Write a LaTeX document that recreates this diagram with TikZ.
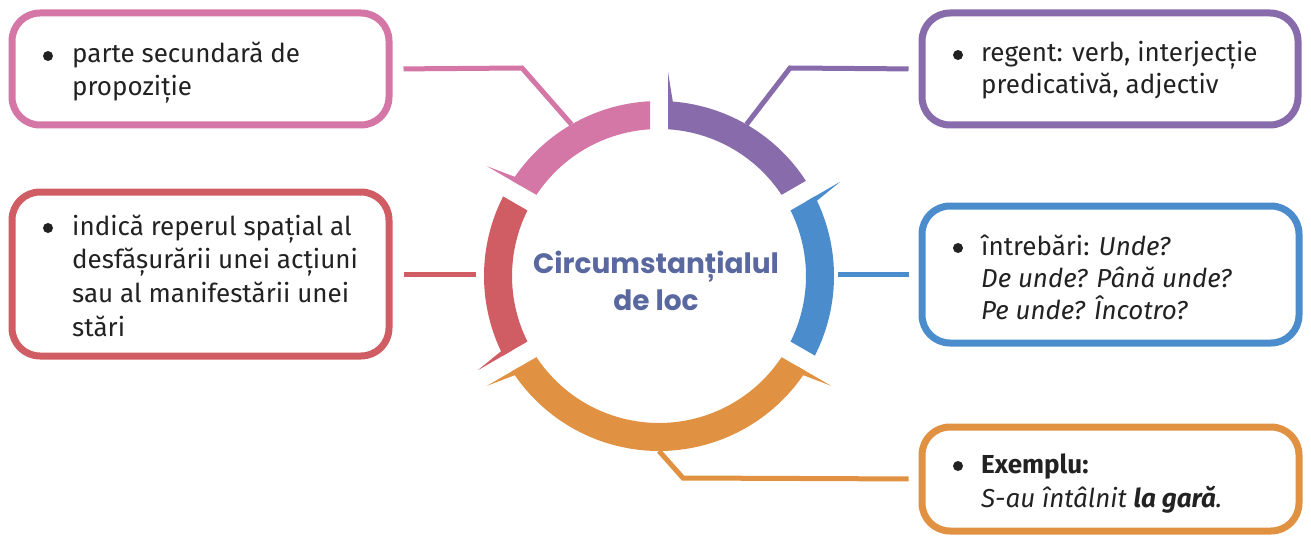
\documentclass[tikz,border=0pt]{standalone}
\usepackage{fontspec}
\setmainfont{Fira Sans}
\newfontfamily\titlefont{Poppins}
\usetikzlibrary{calc}
\definecolor{cpink}{RGB}{212,119,167}
\definecolor{cpurple}{RGB}{135,107,170}
\definecolor{cred}{RGB}{208,92,100}
\definecolor{cblue}{RGB}{74,140,204}
\definecolor{corange}{RGB}{224,146,66}
\definecolor{ctitle}{RGB}{90,104,160}
\definecolor{ctext}{RGB}{34,34,34}
\newcommand\txtlines[2]{\vtop{\baselineskip=#1pt\relax #2}}
\newcommand\ringseg[3]{%
  \fill[#3] ($(C)+({#1+2.95}:175)$) arc[start angle={#1+2.95}, end angle={#2-2.95}, radius=175]
    -- ($(C)+({#2-3.51}:147)$) arc[start angle={#2-3.51}, end angle={#1+3.51}, radius=147] -- cycle;}
\newcommand\ringspike[3]{%
  \fill[#3] ($(C)+({#1}:165)+({#1+90}:{#2*9})$) -- ($(C)+({#1}:204)+({#1+90}:{#2*9})$)
    -- ($(C)+({#1+#2*4.6}:174)$) -- cycle;}
\begin{document}
\begin{tikzpicture}[x=1pt,y=1pt,
  infobox/.style={draw=#1, line width=7pt, rounded corners=28pt, inner sep=0pt, fill=white},
  link/.style={draw=#1, line width=5pt},
  boxtext/.style={anchor=base west, inner sep=0pt, font=\fontsize{26}{33}\selectfont, text=ctext},
  bulletdot/.style={fill=ctext}]
\useasboundingbox (0,0) rectangle (1311,550);
\fill[white] (0,0) rectangle (1311,550);
\coordinate (C) at (659,274);
\node[circle, minimum size=350pt, inner sep=0pt, outer sep=0pt] (ring) at (C) {};
% boxes
\node[infobox=cpink, minimum width=377pt, minimum height=112pt] (pinkbox) at (200.5,481) {};
\node[infobox=cred, minimum width=377pt, minimum height=164pt] (redbox) at (200.5,276) {};
\node[infobox=cpurple, minimum width=376pt, minimum height=112pt] (purplebox) at (1110,481) {};
\node[infobox=cblue, minimum width=377pt, minimum height=137pt] (bluebox) at (1110.5,275.5) {};
\node[infobox=corange, minimum width=377pt, minimum height=104pt] (orangebox) at (1110.5,71) {};
% connectors
\coordinate (pk1) at (522,482);
\coordinate (pu1) at (790,482);
\coordinate (or1) at (683,72);
\draw[link=cpink, shorten <=11pt] (pinkbox.east) -- (pk1) -- (ring.120);
\draw[link=cpurple, shorten >=10pt] (ring.60) -- (pu1) -- (purplebox.west);
\draw[link=cred, shorten <=11pt, shorten >=8pt] (redbox.east) -- (redbox.east -| ring.west);
\draw[link=cblue, shorten <=4pt, shorten >=10pt] (ring.east |- bluebox.west) -- (bluebox.west);
\draw[link=corange, shorten >=10pt] (ring.south) -- (or1) -- (orangebox.west);
% ring
\ringseg{30}{90}{cpurple}
\ringseg{90}{150}{cpink}
\ringseg{150}{210}{cred}
\ringseg{210}{330}{corange}
\ringseg{-30}{30}{cblue}
\ringspike{90}{-1}{cpurple}
\ringspike{150}{-1}{cpink}
\ringspike{210}{-1}{cred}
\ringspike{210}{1}{corange}
\ringspike{330}{-1}{corange}
\ringspike{30}{-1}{cblue}
% title
\node[anchor=center, align=center, text=ctitle, font=\titlefont\bfseries\fontsize{28}{37}\selectfont, inner sep=0pt] (title) at (656,269.5) {Circumstanțialul\\de loc};
% texts
\fill[bulletdot] (48,494) circle (5);
\node[boxtext] (pinktext) at (72,487) {\txtlines{32.5}{\hbox{parte secundară de}\hbox{propoziție}}};
\fill[bulletdot] (48,322) circle (5);
\node[boxtext] (redtext) at (72,315) {\txtlines{33.7}{\hbox{indică reperul spațial al}\hbox{desfășurării unei acțiuni}\hbox{sau al manifestării unei}\hbox{stări}}};
\fill[bulletdot] (958,495) circle (5);
\node[boxtext] (purpletext) at (981,488) {\txtlines{31.5}{\hbox{regent: verb, interjecție}\hbox{predicativă, adjectiv}}};
\fill[bulletdot] (958,302) circle (5);
\node[boxtext] (bluetext) at (981,295) {\txtlines{32}{\hbox{întrebări: \textit{Unde?}}\hbox{\textit{De unde? Până unde?}}\hbox{\textit{Pe unde? Încotro?}}}};
\fill[bulletdot] (958,84) circle (5);
\node[boxtext] (orangetext) at (981,77) {\txtlines{34}{\hbox{\textbf{Exemplu:}}\hbox{\textit{S-au întâlnit \textbf{la gară}.}}}};
\end{tikzpicture}
\end{document}
